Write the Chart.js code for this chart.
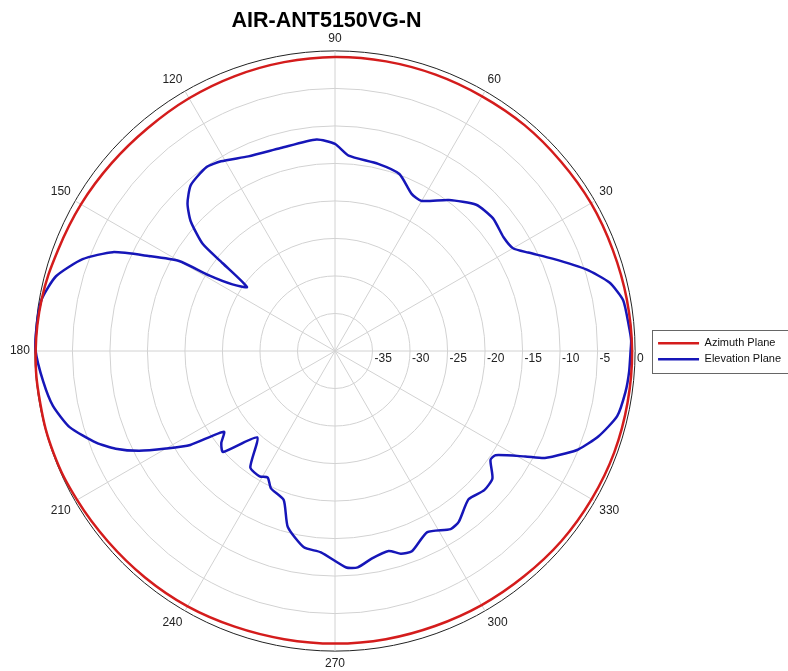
<!DOCTYPE html>
<html>
<head>
<meta charset="utf-8">
<script src="https://cdn.jsdelivr.net/npm/chart.js@4.4.0/dist/chart.umd.min.js"></script>
<style>
  html, body { margin: 0; padding: 0; background: #fff; }
</style>
</head>
<body>
<canvas id="polar" width="788" height="671"></canvas>
<script>
// angles in degrees (0 = right, counter-clockwise), gain in dB
const azimuthAngles = [0, 10, 20, 30, 40, 50, 60, 70, 80, 90, 100, 110, 120, 130, 140, 150, 160, 170,
                       180, 190, 200, 210, 220, 230, 240, 250, 260, 270, 280, 290, 300, 310, 320, 330, 340, 350];
const azimuthGain = [-0.4, -0.5, -0.6, -0.6, -0.7, -0.7, -0.8, -0.8, -0.8, -0.8, -0.9, -1.0, -1.1, -1.2, -1.1, -0.9, -0.7, -0.3,
                     -0.1, -0.1, -0.1, -0.3, -0.5, -0.6, -0.7, -0.9, -1.0, -1.0, -1.0, -1.0, -0.9, -0.8, -0.6, -0.5, -0.4, -0.4];

const elevationAngles = [0, 2, 5, 10, 14, 18, 23, 27, 30, 34, 40, 46, 53, 60, 64, 70, 77, 86, 90, 95,
                         105, 114, 121, 125, 131, 135, 138, 141, 142, 144, 147, 149, 150, 153, 156, 160, 165, 170, 175, 180,
                         186, 191, 196, 201, 204, 207, 210, 213, 216, 219, 222, 228, 234, 239, 242, 245, 251, 255, 261, 266,
                         273, 276, 280, 285, 288, 291, 297, 303, 306, 312, 317, 321, 325, 327, 331, 333, 336, 338, 342, 347,
                         352, 356];
const elevationGain = [-0.6, -0.5, -0.7, -1.0, -2.3, -4.8, -8.5, -11.1, -12.6, -12.9, -12.5, -12.9, -14.8, -16.9, -16.7, -14.9, -14.4, -13.9, -12.4, -11.7,
                       -12.0, -11.6, -10.5, -10.1, -10.7, -12.2, -14.1, -17.3, -21.0, -25.5, -23.7, -20.5, -16.0, -12.1, -7.6, -4.2, -1.5, -0.3, -0.1, -0.1,
                       -0.9, -1.7, -3.2, -5.9, -8.0, -10.7, -14.0, -17.0, -21.7, -20.5, -19.9, -24.5, -20.8, -20.5, -20.9, -19.8, -19.0, -15.7, -13.5, -13.1,
                       -11.1, -11.0, -11.9, -12.4, -11.6, -11.4, -12.9, -11.7, -11.9, -13.4, -12.8, -13.0, -14.7, -14.5, -11.0, -8.6, -6.4, -5.0, -3.1, -1.4,
                       -0.9, -0.7];

const ringTicks = [-35, -30, -25, -20, -15, -10, -5, 0];
const angleTicks = [30, 60, 90, 120, 150, 180, 210, 240, 270, 300, 330];

// one radar spoke per degree, index 0 at the top (90), running clockwise
const angleLabels = [];
for (let i = 0; i < 360; i++) angleLabels.push((90 - i + 360) % 360);

function toSpokes(angles, gains) {
  const out = new Array(360).fill(null);
  angles.forEach((a, i) => { out[(90 - a + 360) % 360] = gains[i]; });
  return out;
}

const FONT = "Arial, 'Liberation Sans', sans-serif";

// dB labels along the 0 degree spoke
const ringLabels = {
  id: 'ringLabels',
  beforeDatasetsDraw(chart) {
    const s = chart.scales.r;
    const ctx = chart.ctx;
    ctx.save();
    ctx.font = '12px ' + FONT;
    ctx.fillStyle = '#222';
    ctx.textAlign = 'left';
    ctx.textBaseline = 'top';
    ringTicks.forEach(v => {
      const d = s.getDistanceFromCenterForValue(v);
      ctx.fillText(String(v), s.xCenter + d + 2, s.yCenter + 2);
    });
    ctx.restore();
  }
};

// frame round the legend
const legendFrame = {
  id: 'legendFrame',
  afterDraw(chart) {
    const hb = chart.legend.legendHitBoxes;
    if (!hb || !hb.length) return;
    const ctx = chart.ctx;
    const left = Math.min(...hb.map(h => h.left)) - 6;
    const top = Math.min(...hb.map(h => h.top)) - 8;
    const right = Math.max(...hb.map(h => h.left + h.width)) + 20;
    const bottom = Math.max(...hb.map(h => h.top + h.height)) + 8;
    ctx.save();
    ctx.strokeStyle = '#666';
    ctx.lineWidth = 1;
    ctx.strokeRect(Math.round(left) + 0.5, Math.round(top) + 0.5, right - left, bottom - top);
    ctx.restore();
  }
};

new Chart(document.getElementById('polar'), {
  type: 'radar',
  data: {
    labels: angleLabels,
    datasets: [
      {
        label: 'Azimuth Plane',
        data: toSpokes(azimuthAngles, azimuthGain),
        borderColor: '#d41c1c',
        backgroundColor: '#d41c1c',
        borderWidth: 2.5,
        tension: 0.4,
        fill: false,
        spanGaps: true
      },
      {
        label: 'Elevation Plane',
        data: toSpokes(elevationAngles, elevationGain),
        borderColor: '#1616b8',
        backgroundColor: '#1616b8',
        borderWidth: 2.5,
        tension: 0.2,
        fill: false,
        spanGaps: true
      }
    ]
  },
  options: {
    responsive: false,
    animation: false,
    layout: { padding: { left: 0, right: -3, top: 0, bottom: 0 } },
    elements: { point: { radius: 0, hitRadius: 0 } },
    plugins: {
      tooltip: { enabled: false },
      title: {
        display: true,
        text: 'AIR-ANT5150VG-N',
        fullSize: false,
        color: '#000',
        font: { family: FONT, size: 21.5, weight: 'bold', lineHeight: 1 },
        padding: { top: 10, bottom: 0 }
      },
      legend: {
        position: 'right',
        fullSize: false,
        labels: {
          usePointStyle: true,
          pointStyle: 'line',
          pointStyleWidth: 41,
          color: '#111',
          padding: 5,
          font: { family: FONT, size: 11 }
        }
      }
    },
    scales: {
      r: {
        min: -40,
        max: 0,
        ticks: { stepSize: 5, display: false },
        grid: {
          circular: true,
          color: c => (c.tick && c.tick.value === 0) ? '#222' : '#d2d2d2',
          lineWidth: 1
        },
        angleLines: {
          color: '#d2d2d2',
          lineWidth: c => (angleLabels[c.index] % 30 === 0) ? 1 : 0
        },
        pointLabels: {
          color: '#222',
          padding: 5,
          font: { family: FONT, size: 12 },
          callback: lbl => angleTicks.includes(lbl) ? String(lbl) : ''
        }
      }
    }
  },
  plugins: [ringLabels, legendFrame]
});
</script>
</body>
</html>
